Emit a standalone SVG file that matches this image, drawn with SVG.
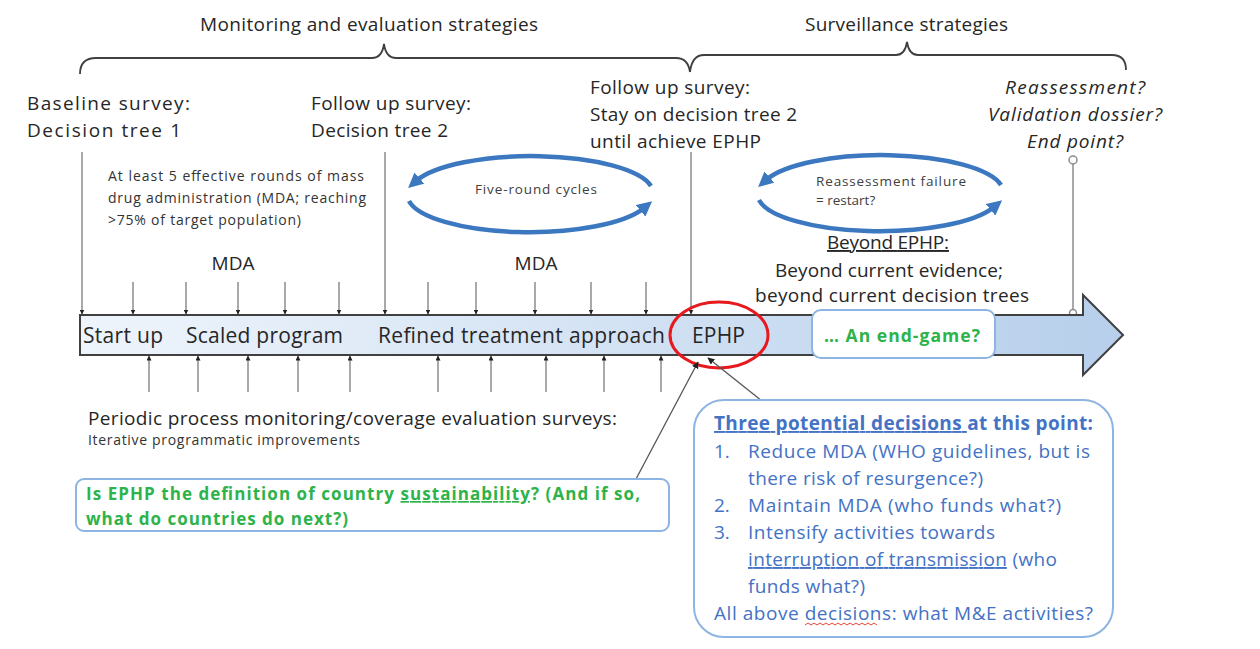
<svg xmlns="http://www.w3.org/2000/svg" width="1260" height="649" viewBox="0 0 1260 649">
<defs>
<style>
text{font-family:"Open Sans","Noto Sans","Liberation Sans",sans-serif;fill:#262626}
.big{font-size:19px}
.bar{font-size:21px;fill:#262626}
.sm{font-size:14px;fill:#333}
.it{font-size:19px;font-style:italic;text-anchor:middle}
.mid{text-anchor:middle}
.green{font-size:17px;font-weight:bold;fill:#2db34a}
.blue{font-size:19px;fill:#4472c4}
.ul{text-decoration:underline}
.gl{stroke:#8c8c8c;stroke-width:1.5;fill:none}
.tick{stroke:#8c8c8c;stroke-width:1.5;fill:none}
.brace{stroke:#404040;stroke-width:1.8;fill:none}
.cyc{stroke:#3b78c0;stroke-width:4.5;fill:none}
.box{fill:#fff;stroke:#8db4e2;stroke-width:2}
</style>
<marker id="tk" viewBox="0 0 10 10" refX="9" refY="5" markerWidth="5" markerHeight="5" orient="auto" markerUnits="userSpaceOnUse">
<path d="M0,0 L10,5 L0,10 z" fill="#222"/>
</marker>
<marker id="ca" viewBox="0 0 10 10" refX="9" refY="5" markerWidth="7" markerHeight="7" orient="auto" markerUnits="userSpaceOnUse">
<path d="M0,0 L10,5 L0,10 z" fill="#222"/>
</marker>
<marker id="bh" viewBox="0 0 10 10" refX="3" refY="5" markerWidth="15" markerHeight="15" orient="auto" markerUnits="userSpaceOnUse">
<path d="M0,0 L10,5 L0,10 z" fill="#3b78c0"/>
</marker>
<linearGradient id="bg" x1="0" y1="0" x2="1" y2="0">
<stop offset="0" stop-color="#eef4fb"/>
<stop offset="0.5" stop-color="#d4e3f4"/>
<stop offset="1" stop-color="#b7cfeb"/>
</linearGradient>
</defs>
<rect width="1260" height="649" fill="#fff"/>

<g id="headers">
<text class="big" x="200" y="31" textLength="338">Monitoring and evaluation strategies</text>
<text class="big" x="805" y="31" textLength="203">Surveillance strategies</text>
<path class="brace" d="M80,74 Q80,58 96,58 L372,58 Q382,58 384,44 Q386,58 396,58 L676,58 Q688,58 690,72"/>
<path class="brace" d="M690,72 Q692,55 704,55 L896,55 Q905,55 907,42 Q909,55 918,55 L1112,55 Q1126,55 1126,70"/>
</g>

<g id="survey-labels">
<text class="big" x="27" y="110" textLength="163">Baseline survey:</text>
<text class="big" x="27" y="137" textLength="154">Decision tree 1</text>
<text class="big" x="311" y="110" textLength="160">Follow up survey:</text>
<text class="big" x="311" y="137" textLength="137">Decision tree 2</text>
<text class="big" x="590" y="94" textLength="160">Follow up survey:</text>
<text class="big" x="590" y="121" textLength="207">Stay on decision tree 2</text>
<text class="big" x="590" y="148" textLength="171">until achieve EPHP</text>
<text class="it" x="1075" y="94" textLength="140">Reassessment?</text>
<text class="it" x="1075" y="121" textLength="174">Validation dossier?</text>
<text class="it" x="1075" y="148" textLength="96">End point?</text>
</g>

<g id="mda-notes">
<text class="sm" x="108" y="181" textLength="256">At least 5 effective rounds of mass</text>
<text class="sm" x="108" y="203" textLength="258">drug administration (MDA; reaching</text>
<text class="sm" x="108" y="225" textLength="193">&gt;75% of target population)</text>
<text class="big mid" x="233" y="270">MDA</text>
<text class="big mid" x="536" y="270">MDA</text>
</g>

<g id="cycle-five">
<path class="cyc" d="M651,186 A122 37 0 0 0 416,181" marker-end="url(#bh)"/>
<path class="cyc" d="M409,201 A122 37 0 0 0 644,208" marker-end="url(#bh)"/>
<text class="mid" x="536" y="194" textLength="122" style="font-size:13.5px;fill:#404040">Five-round cycles</text>
</g>

<g id="cycle-reassess">
<path class="cyc" d="M1001,185 A122 37 0 0 0 766,180" marker-end="url(#bh)"/>
<path class="cyc" d="M759,200 A122 37 0 0 0 994,207" marker-end="url(#bh)"/>
<text x="816" y="186" textLength="150" style="font-size:13.5px;fill:#404040">Reassessment failure</text>
<text x="816" y="205" style="font-size:13.5px;fill:#404040">= restart?</text>
</g>

<g id="beyond">
<text class="big mid" x="888" y="249" textLength="122"><tspan class="ul">Beyond EPHP:</tspan></text>
<text class="big mid" x="889" y="277" textLength="228">Beyond current evidence;</text>
<text class="big mid" x="892" y="302" textLength="274">beyond current decision trees</text>
</g>

<g id="connectors">
<line class="gl" x1="82" y1="152" x2="82" y2="314" marker-end="url(#tk)"/>
<line class="gl" x1="385" y1="152" x2="385" y2="314" marker-end="url(#tk)"/>
<line class="gl" x1="691" y1="152" x2="691" y2="314" marker-end="url(#tk)"/>
<line class="gl" x1="1073" y1="164" x2="1073" y2="310"/>
<circle cx="1073" cy="160" r="4" fill="#fff" stroke="#8c8c8c" stroke-width="1.5"/>
<circle cx="1073" cy="313" r="3.5" fill="#fff" stroke="#8c8c8c" stroke-width="1.5"/>
<g marker-end="url(#tk)">
<line class="tick" x1="133" y1="282" x2="133" y2="314"/>
<line class="tick" x1="186" y1="282" x2="186" y2="314"/>
<line class="tick" x1="238" y1="282" x2="238" y2="314"/>
<line class="tick" x1="285" y1="282" x2="285" y2="314"/>
<line class="tick" x1="339" y1="282" x2="339" y2="314"/>
<line class="tick" x1="428" y1="282" x2="428" y2="314"/>
<line class="tick" x1="476" y1="282" x2="476" y2="314"/>
<line class="tick" x1="535" y1="282" x2="535" y2="314"/>
<line class="tick" x1="591" y1="282" x2="591" y2="314"/>
<line class="tick" x1="646" y1="282" x2="646" y2="314"/>
<line class="tick" x1="149" y1="392" x2="149" y2="356"/>
<line class="tick" x1="198" y1="392" x2="198" y2="356"/>
<line class="tick" x1="248" y1="392" x2="248" y2="356"/>
<line class="tick" x1="298" y1="392" x2="298" y2="356"/>
<line class="tick" x1="350" y1="392" x2="350" y2="356"/>
<line class="tick" x1="438" y1="392" x2="438" y2="356"/>
<line class="tick" x1="491" y1="392" x2="491" y2="356"/>
<line class="tick" x1="546" y1="392" x2="546" y2="356"/>
<line class="tick" x1="604" y1="392" x2="604" y2="356"/>
<line class="tick" x1="661" y1="392" x2="661" y2="356"/>
</g>
</g>

<g id="timeline">
<path d="M80,315 L1083,315 L1083,295 L1123,335 L1083,375 L1083,355 L80,355 Z" fill="url(#bg)" stroke="#404040" stroke-width="2"/>
<text class="bar" x="83" y="343" textLength="80">Start up</text>
<text class="bar" x="186" y="343" textLength="157">Scaled program</text>
<text class="bar" x="378" y="343" textLength="287">Refined treatment approach</text>
<text class="bar" x="692" y="343" textLength="53">EPHP</text>
</g>

<g id="ephp-circle">
<ellipse cx="719" cy="335" rx="49" ry="33" fill="none" stroke="#e5191e" stroke-width="3"/>
</g>

<g id="endgame">
<rect class="box" x="812" y="310" width="183" height="48" rx="9"/>
<text class="green mid" x="902" y="342" textLength="156" style="font-size:17.5px">… An end-game?</text>
</g>

<g id="monitoring">
<text class="big" x="88" y="425" textLength="529">Periodic process monitoring/coverage evaluation surveys:</text>
<text x="88" y="445" textLength="272" style="font-size:14px;fill:#333">Iterative programmatic improvements</text>
</g>

<g id="callout-lines">
<line x1="636" y1="479" x2="698" y2="362" stroke="#555" stroke-width="1.3" marker-end="url(#ca)"/>
<line x1="762" y1="401" x2="708" y2="358" stroke="#555" stroke-width="1.3" marker-end="url(#ca)"/>
</g>

<g id="sustain-box">
<rect class="box" x="76" y="479" width="593" height="52" rx="8"/>
<text class="green" x="86" y="500" textLength="554">Is EPHP the definition of country <tspan class="ul">sustainability</tspan>? (And if so,</text>
<text class="green" x="86" y="525" textLength="262">what do countries do next?)</text>
</g>

<g id="decisions-box">
<rect class="box" x="694" y="400" width="419" height="237" rx="30"/>
<text class="blue" x="714" y="430" textLength="379" font-weight="bold"><tspan class="ul">Three potential decisions </tspan>at this point:</text>
<text class="blue" x="714" y="458">1.</text>
<text class="blue" x="748" y="458" textLength="342">Reduce MDA (WHO guidelines, but is</text>
<text class="blue" x="748" y="485" textLength="235">there risk of resurgence?)</text>
<text class="blue" x="714" y="512">2.</text>
<text class="blue" x="748" y="512" textLength="313">Maintain MDA (who funds what?)</text>
<text class="blue" x="714" y="539">3.</text>
<text class="blue" x="748" y="539" textLength="247">Intensify activities towards</text>
<text class="blue" x="748" y="566" textLength="309"><tspan class="ul">interruption of transmission</tspan> (who</text>
<text class="blue" x="748" y="593" textLength="117">funds what?)</text>
<text class="blue" x="714" y="620" textLength="379">All above decisions: what M&amp;E activities?</text>
<path d="M805,625 l3,-2 l3,2 l3,-2 l3,2 l3,-2 l3,2 l3,-2 l3,2 l3,-2 l3,2 l3,-2 l3,2 l3,-2 l3,2 l3,-2 l3,2 l3,-2 l3,2 l3,-2 l3,2 l3,-2 l3,2 l3,-2 l3,2" fill="none" stroke="#e8443a" stroke-width="1"/>
</g>
</svg>
